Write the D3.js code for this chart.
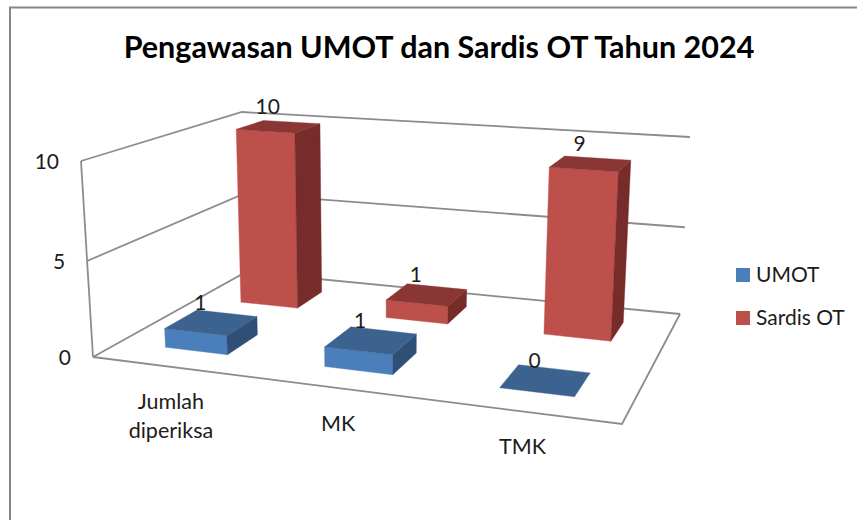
<!DOCTYPE html>
<html><head><meta charset="utf-8"><script src="https://cdn.jsdelivr.net/npm/d3@7"></script>
<style>body{margin:0;background:#fff}svg{display:block}text{font-family:Lato,"Open Sans",sans-serif;fill:#1c1c1c}</style></head>
<body><svg id="c" width="857" height="520"></svg><script>
const chartTitle="Pengawasan UMOT dan Sardis OT Tahun 2024";
const categories=["Jumlah diperiksa","MK","TMK"];
const seriesNames=["UMOT","Sardis OT"];
const umot=[1,1,0];
const sardisOT=[10,1,9];
const valueTicks=[0,5,10];
const seriesValues=[umot,sardisOT];
const faceColors=[{front:"#4b7fbc",side:"#2f4f77",top:"#3c628f"},{front:"#be504c",side:"#772c2a",top:"#8a3634"}];

const floorQuad=[[93,357],[622,424],[680,314],[246,272]];
const ceilQuad=[[81,161],[632,201],[690,137],[242,112]];
function homography(p){const [[x0,y0],[x1,y1],[x2,y2],[x3,y3]]=p;
 const dx1=x1-x2,dx2=x3-x2,dy1=y1-y2,dy2=y3-y2,sx=x0-x1+x2-x3,sy=y0-y1+y2-y3,det=dx1*dy2-dx2*dy1;
 const g=(sx*dy2-dx2*sy)/det,h=(dx1*sy-sx*dy1)/det;
 const a=x1-x0+g*x1,b=x3-x0+h*x3,d=y1-y0+g*y1,e=y3-y0+h*y3;
 return (u,w)=>{const q=g*u+h*w+1;return [(a*u+b*w+x0)/q,(d*u+e*w+y0)/q];};}
const floorH=homography(floorQuad),ceilH=homography(ceilQuad);
const xScale=d3.scaleBand().domain(categories).range([0,1]).paddingInner(0.6).paddingOuter(0.3);
const depthScale=d3.scaleBand().domain(seriesNames).range([0,1]).paddingInner(0.6).paddingOuter(0.3);
// the middle stop carries the slight foreshortening of the picture's vertical axis
const yScale=d3.scaleLinear().domain([0,5,10]).range([0,0.49,1]);
function project(u,w,val){const a=floorH(u,w),b=ceilH(u,w),t=yScale(val);return [a[0]+(b[0]-a[0])*t,a[1]+(b[1]-a[1])*t];}
const line=d3.line();
const svg=d3.select("#c");
svg.append("rect").attr("width",857).attr("height",520).attr("fill","#fff");
svg.append("path").attr("d","M10,520V7.5H857").attr("fill","none").attr("stroke","#868686").attr("stroke-width",2);
svg.append("text").attr("x",439).attr("y",58).attr("text-anchor","middle").attr("font-size",30.5).attr("font-weight",700).style("fill","#000").text(chartTitle);
const wallColor="#8c8c8c";
const walls=svg.append("g").attr("fill","none").attr("stroke",wallColor).attr("stroke-width",1.8);
walls.append("path").attr("d",line([project(0,0,0),project(0,0,10)]));
valueTicks.forEach(t=>walls.append("path").attr("d",line([project(0,0,t),project(0,1,t),project(1,1,t)])));
walls.append("path").attr("d",line([project(0,0,0),project(1,0,0),project(1,1,0)]));
const bars=svg.append("g");
const labels=[];
[1,0].forEach(s=>{categories.forEach((cat,i)=>{
 const v=seriesValues[s][i],col=faceColors[s];
 const u0=xScale(cat),u1=u0+xScale.bandwidth(),w0=depthScale(seriesNames[s]),w1=w0+depthScale.bandwidth();
 const quad=(pts,fill)=>bars.append("path").attr("d",line(pts)+"Z").attr("fill",fill).attr("stroke",fill).attr("stroke-width",0.4);
 if(v>0){
  quad([project(u0,w0,0),project(u1,w0,0),project(u1,w0,v),project(u0,w0,v)],col.front);
  quad([project(u1,w0,0),project(u1,w1,0),project(u1,w1,v),project(u1,w0,v)],col.side);
 }
 quad([project(u0,w0,v),project(u1,w0,v),project(u1,w1,v),project(u0,w1,v)],col.top);
 labels.push({v,p:project((u0+u1)/2,(w0+w1)/2,v)});
});});
svg.append("g").selectAll("text").data(labels).join("text").attr("x",d=>d.p[0]-11).attr("y",d=>d.p[1]-20).attr("dy","0.35em")
 .attr("text-anchor","middle").attr("font-size",21).text(d=>d.v);
svg.append("g").selectAll("text").data(valueTicks).join("text").attr("x",d=>project(0,0,d)[0]-22).attr("y",d=>project(0,0,d)[1]+1).attr("dy","0.35em")
 .attr("text-anchor","end").attr("font-size",21).text(d=>d);
const catGroup=svg.append("g").attr("text-anchor","middle").attr("font-size",21.5);
categories.forEach(cat=>{
 const p=project(xScale(cat)+xScale.bandwidth()/2,0,0);
 cat.split(" ").forEach((t,j)=>catGroup.append("text").attr("x",p[0]).attr("y",p[1]+35+j*29).attr("dy","0.35em").text(t));
});
const lg=svg.append("g").selectAll("g").data(seriesNames).join("g").attr("transform",(d,i)=>`translate(736,${268+i*43})`);
lg.append("rect").attr("width",14).attr("height",14).attr("fill",(d,i)=>faceColors[i].front);
lg.append("text").attr("x",20).attr("y",7).attr("dy","0.35em").attr("font-size",21).text(d=>d);
</script></body></html>
